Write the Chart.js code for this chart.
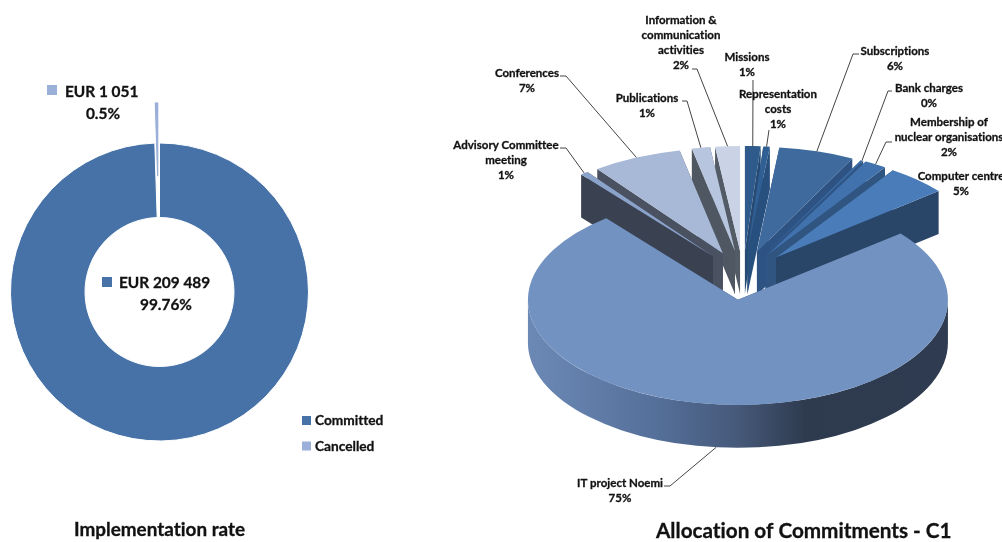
<!DOCTYPE html>
<html>
<head>
<meta charset="utf-8">
<title>Commitments</title>
<script src="https://cdn.jsdelivr.net/npm/chart.js@4"></script>
<style>
  html, body { margin: 0; padding: 0; background: #fff; overflow: hidden; }
  canvas { position: absolute; top: 0; }
  #rateChart { left: 0; }
  #allocationChart { left: 440px; }
</style>
</head>
<body>
<canvas id="rateChart" width="440" height="542"></canvas>
<canvas id="allocationChart" width="562" height="542"></canvas>
<script>
// Left chart data
const rateCategories = ['Committed', 'Cancelled'];
const rateValues = [209489, 1051];
const rateValueLabels = ['EUR 209 489', 'EUR 1 051'];
const ratePercentLabels = ['99.76%', '0.5%'];
const rateColors = ['#4672a8', '#9ab0d8'];

// Right chart data
const allocationCategories = [
  'Missions',
  ['Representation', 'costs'],
  'Subscriptions',
  'Bank charges',
  ['Membership of', 'nuclear organisations'],
  'Computer centre',
  'IT project Noemi',
  ['Advisory Committee', 'meeting'],
  'Conferences',
  'Publications',
  ['Information &', 'communication', 'activities']
];
const allocationValues = [1.2, 0.5, 5.8, 0.2, 1.7, 4.7, 75.1, 0.6, 6.9, 1.4, 1.9];
const allocationPercentLabels = ['1%', '1%', '6%', '0%', '2%', '5%', '75%', '1%', '7%', '1%', '2%'];
const allocationColors = ['#2f5b8c', '#305f94', '#3e6a9e', '#3b6ba3', '#4272ae', '#4a7cb9', '#7292c1', '#8ba2cb', '#a8b8d7', '#b8c5de', '#cad3e6'];
const allocationWallColors = ['#264a73', '#28507f', '#2e5282', '#2e5586', '#2f5580', '#294568', '#46597a', '#3a4252', '#4a5262', '#4f5862', '#535c66'];

// Pie projection
const TILT = 0.5;
const DEPTH = 43;
const EXPLODE = 49;
const RATE_EXPLODE = 41;
const FONT = 'Lato, sans-serif';
const ALLOCATION_LEFT = 440;

// Label placement in page pixels, same order as allocationCategories
const labelLayout = [
  { cx: 747, y: 57, leader: [[753, 80]] },
  { cx: 778, y: 94, leader: [[769, 130]] },
  { cx: 895, y: 51, leader: [[859, 54], [853, 54]] },
  { cx: 929, y: 88, leader: [[892, 91], [888, 91]] },
  { cx: 949, y: 122, leader: [[892, 142], [886, 142]] },
  { cx: 961, y: 176, leader: null },
  { cx: 620, y: 483, leader: [[664, 486], [670, 486]] },
  { cx: 506, y: 145, leader: [[560, 148], [566, 148]] },
  { cx: 527, y: 73, leader: [[560, 76], [566, 76]] },
  { cx: 647, y: 98, leader: [[682, 101], [687, 101]] },
  { cx: 681, y: 20, leader: [[692, 69], [697, 69]] }
];

// Bold text with a hair of stroke, Lato comes out lighter than the original face
function boldText(ctx, text, x, y) {
  ctx.lineWidth = 0.3;
  ctx.strokeStyle = ctx.fillStyle;
  ctx.strokeText(text, x, y);
  ctx.fillText(text, x, y);
}

function shiftOf(arc, amount) {
  const mid = (arc.startAngle + arc.endAngle) / 2;
  return { x: Math.cos(mid) * amount, y: Math.sin(mid) * amount };
}

// Screen position of a point on the tilted, exploded pie
function project(arc, angle, radius) {
  const s = shiftOf(arc, EXPLODE);
  return {
    x: arc.x + s.x + Math.cos(angle) * radius,
    y: arc.y + (s.y + Math.sin(angle) * radius) * TILT
  };
}

function fillWall(ctx, arc, angle, color) {
  const a = project(arc, angle, 0);
  const b = project(arc, angle, arc.outerRadius);
  ctx.fillStyle = color;
  ctx.beginPath();
  ctx.moveTo(a.x, a.y);
  ctx.lineTo(b.x, b.y);
  ctx.lineTo(b.x, b.y + DEPTH);
  ctx.lineTo(a.x, a.y + DEPTH);
  ctx.closePath();
  ctx.fill();
}

function fillOuterWall(ctx, arc, color) {
  const from = Math.max(arc.startAngle, 0);
  const to = Math.min(arc.endAngle, Math.PI);
  if (to <= from) return;
  const c = project(arc, 0, 0);
  const rx = arc.outerRadius;
  const ry = arc.outerRadius * TILT;
  const gradient = ctx.createLinearGradient(c.x - rx, 0, c.x + rx, 0);
  gradient.addColorStop(0, '#6c89b6');
  gradient.addColorStop(0.3, '#55709a');
  gradient.addColorStop(0.5, '#46597a');
  gradient.addColorStop(0.66, '#2e3b4f');
  gradient.addColorStop(1, color);
  ctx.fillStyle = gradient;
  ctx.beginPath();
  ctx.ellipse(c.x, c.y, rx, ry, 0, from, to);
  ctx.ellipse(c.x, c.y + DEPTH, rx, ry, 0, to, from, true);
  ctx.closePath();
  ctx.fill();
}

const pie3dPlugin = {
  id: 'pie3d',
  beforeDatasetDraw(chart) {
    const ctx = chart.ctx;
    const arcs = chart.getDatasetMeta(0).data.slice();
    // back to front
    arcs.sort((a, b) => Math.sin((a.startAngle + a.endAngle) / 2) - Math.sin((b.startAngle + b.endAngle) / 2));
    arcs.forEach(arc => {
      const i = arc.$context.dataIndex;
      const wall = allocationWallColors[i];
      fillOuterWall(ctx, arc, '#2e3b50');
      fillWall(ctx, arc, arc.startAngle, wall);
      fillWall(ctx, arc, arc.endAngle, wall);
      const s = shiftOf(arc, EXPLODE);
      ctx.save();
      ctx.translate(arc.x + s.x, arc.y + s.y * TILT);
      ctx.scale(1, TILT);
      ctx.translate(-arc.x, -arc.y);
      arc.draw(ctx);
      ctx.restore();
    });
    return false;
  },
  afterDraw(chart) {
    const ctx = chart.ctx;
    const arcs = chart.getDatasetMeta(0).data;
    ctx.save();
    ctx.textRendering = 'optimizeSpeed';
    ctx.translate(-ALLOCATION_LEFT, 0);
    arcs.forEach((arc, i) => {
      const place = labelLayout[i];
      const lines = [].concat(allocationCategories[i], allocationPercentLabels[i]);
      ctx.font = 'bold 11.5px ' + FONT;
      ctx.fillStyle = '#111111';
      ctx.textAlign = 'center';
      ctx.textBaseline = 'middle';
      lines.forEach((line, n) => boldText(ctx, line, place.cx, place.y + n * 15.2));
      if (!place.leader) return;
      const mid = (arc.startAngle + arc.endAngle) / 2;
      const end = project(arc, mid, arc.outerRadius);
      const front = Math.sin(mid) > 0.5 ? DEPTH : 0;
      ctx.strokeStyle = '#444';
      ctx.lineWidth = 1;
      ctx.beginPath();
      place.leader.forEach((p, n) => n ? ctx.lineTo(p[0], p[1]) : ctx.moveTo(p[0], p[1]));
      ctx.lineTo(end.x + ALLOCATION_LEFT, end.y + front);
      ctx.stroke();
    });
    ctx.font = 'bold 20.7px ' + FONT;
    ctx.fillStyle = '#111111';
    ctx.textAlign = 'left';
    boldText(ctx, 'Allocation of Commitments - C1', 656, 531);
    ctx.restore();
  }
};

const ratePlugin = {
  id: 'rateLabels',
  beforeDatasetDraw(chart) {
    const ctx = chart.ctx;
    chart.getDatasetMeta(0).data.forEach((arc, i) => {
      const s = shiftOf(arc, i === 1 ? RATE_EXPLODE : 0);
      ctx.save();
      ctx.translate(s.x, s.y);
      arc.draw(ctx);
      ctx.restore();
    });
    return false;
  },
  afterDraw(chart) {
    const ctx = chart.ctx;
    const swatch = (color, x, y, size) => {
      ctx.fillStyle = color;
      ctx.fillRect(x, y, size, size);
    };
    ctx.save();
    ctx.textRendering = 'optimizeSpeed';
    ctx.textBaseline = 'middle';

    // Data labels
    swatch(rateColors[1], 47, 85, 10);
    swatch(rateColors[0], 102, 277, 10);
    ctx.fillStyle = '#111111';
    ctx.font = 'bold 15.4px ' + FONT;
    ctx.textAlign = 'left';
    boldText(ctx, rateValueLabels[1], 65, 92);
    boldText(ctx, rateValueLabels[0], 119, 283);
    ctx.textAlign = 'center';
    boldText(ctx, ratePercentLabels[1], 103, 114);
    boldText(ctx, ratePercentLabels[0], 166, 305);

    // Legend
    rateCategories.forEach((name, i) => {
      const y = 420 + i * 25.5;
      swatch(rateColors[i], 302, y - 4, 9);
      ctx.fillStyle = '#111111';
      ctx.font = 'bold 13.7px ' + FONT;
      ctx.textAlign = 'left';
      boldText(ctx, name, 315, y + 1);
    });

    ctx.font = 'bold 18.9px ' + FONT;
    boldText(ctx, 'Implementation rate', 74, 530);
    ctx.restore();
  }
};

new Chart(document.getElementById('rateChart'), {
  type: 'doughnut',
  data: {
    labels: rateCategories,
    datasets: [{
      data: rateValues,
      backgroundColor: rateColors,
      borderColor: '#fff',
      borderWidth: 1,
      radius: 149
    }]
  },
  options: {
    responsive: false,
    animation: false,
    cutout: '50%',
    layout: { padding: { top: 42, right: 121 } },
    plugins: { legend: { display: false }, tooltip: { enabled: false } }
  },
  plugins: [ratePlugin]
});

new Chart(document.getElementById('allocationChart'), {
  type: 'pie',
  data: {
    labels: allocationCategories,
    datasets: [{
      data: allocationValues,
      backgroundColor: allocationColors,
      borderWidth: 0,
      radius: 210
    }]
  },
  options: {
    responsive: false,
    animation: false,
    layout: { padding: { top: 9, left: 44 } },
    plugins: { legend: { display: false }, tooltip: { enabled: false } }
  },
  plugins: [pie3dPlugin]
});
</script>
</body>
</html>
